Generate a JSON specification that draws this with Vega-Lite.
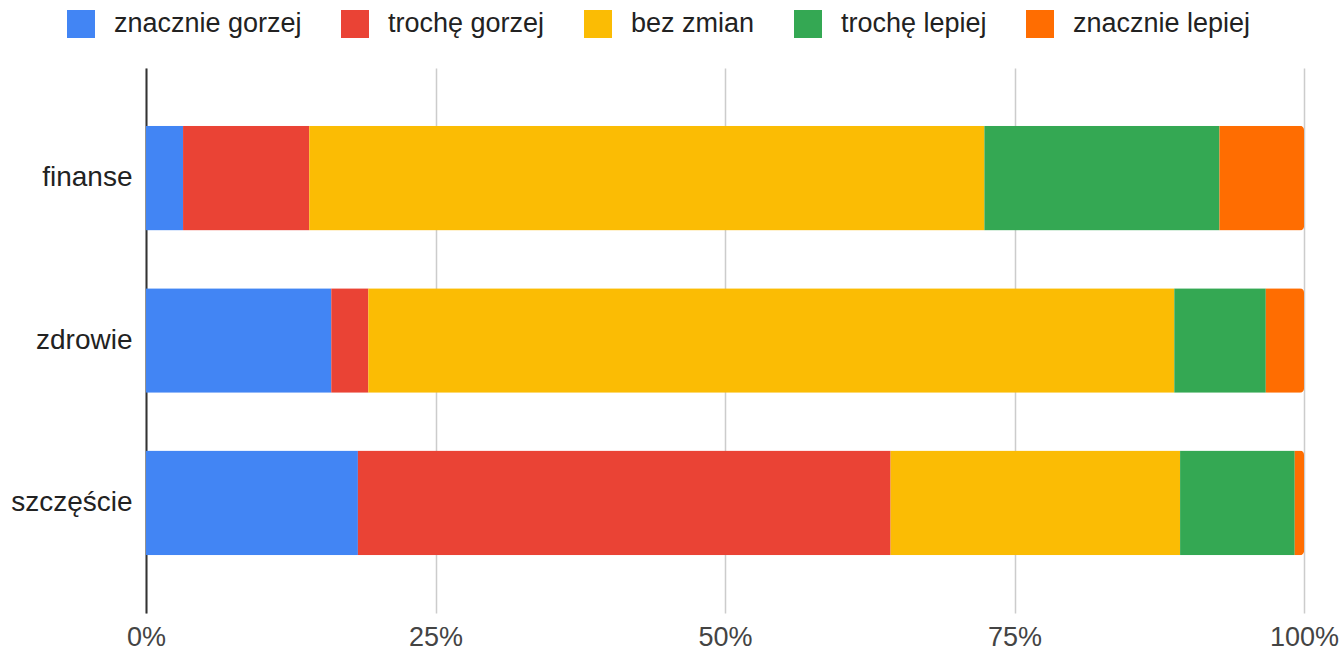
{
  "$schema": "https://vega.github.io/schema/vega-lite/v6.json",
  "width": 1158,
  "height": 545,
  "autosize": {"type": "none"},
  "padding": {"left": 146, "top": 68, "right": 40, "bottom": 40},
  "background": "white",
  "config": {
    "view": {"stroke": null},
    "font": "Liberation Sans"
  },
  "data": {
    "values": [
      {"kat": "finanse", "odp": "znacznie gorzej", "o": 1, "v": 3.2},
      {"kat": "finanse", "odp": "trochę gorzej", "o": 2, "v": 10.9},
      {"kat": "finanse", "odp": "bez zmian", "o": 3, "v": 58.3},
      {"kat": "finanse", "odp": "trochę lepiej", "o": 4, "v": 20.3},
      {"kat": "finanse", "odp": "znacznie lepiej", "o": 5, "v": 7.3},
      {"kat": "zdrowie", "odp": "znacznie gorzej", "o": 1, "v": 16.0},
      {"kat": "zdrowie", "odp": "trochę gorzej", "o": 2, "v": 3.2},
      {"kat": "zdrowie", "odp": "bez zmian", "o": 3, "v": 69.6},
      {"kat": "zdrowie", "odp": "trochę lepiej", "o": 4, "v": 7.9},
      {"kat": "zdrowie", "odp": "znacznie lepiej", "o": 5, "v": 3.3},
      {"kat": "szczęście", "odp": "znacznie gorzej", "o": 1, "v": 18.3},
      {"kat": "szczęście", "odp": "trochę gorzej", "o": 2, "v": 46.0},
      {"kat": "szczęście", "odp": "bez zmian", "o": 3, "v": 25.0},
      {"kat": "szczęście", "odp": "trochę lepiej", "o": 4, "v": 9.9},
      {"kat": "szczęście", "odp": "znacznie lepiej", "o": 5, "v": 0.8}
    ]
  },
  "mark": {"type": "bar", "cornerRadiusEnd": 4},
  "encoding": {
    "y": {
      "field": "kat",
      "type": "nominal",
      "sort": ["finanse", "zdrowie", "szczęście"],
      "scale": {"paddingInner": 0.356, "paddingOuter": 0.356},
      "axis": {
        "title": null,
        "ticks": false,
        "domain": true,
        "domainColor": "#333333",
        "domainWidth": 2,
        "labelFontSize": 28,
        "labelColor": "#222222",
        "labelPadding": 14,
        "labelFont": "Liberation Sans"
      }
    },
    "x": {
      "field": "v",
      "type": "quantitative",
      "stack": "normalize",
      "scale": {"domain": [0, 1], "nice": false},
      "axis": {
        "title": null,
        "values": [0, 0.25, 0.5, 0.75, 1],
        "format": ".0%",
        "domain": false,
        "ticks": false,
        "grid": true,
        "gridColor": "#cccccc",
        "gridWidth": 1.5,
        "labelFontSize": 27,
        "labelColor": "#444444",
        "labelPadding": 11,
        "labelFont": "Liberation Sans",
        "labelFlush": false
      }
    },
    "order": {"field": "o", "type": "quantitative"},
    "color": {
      "field": "odp",
      "type": "nominal",
      "sort": ["znacznie gorzej", "trochę gorzej", "bez zmian", "trochę lepiej", "znacznie lepiej"],
      "scale": {
        "domain": ["znacznie gorzej", "trochę gorzej", "bez zmian", "trochę lepiej", "znacznie lepiej"],
        "range": ["#4285F4", "#EA4335", "#FBBC04", "#34A853", "#FF6D01"]
      },
      "legend": {
        "title": null,
        "orient": "none",
        "direction": "horizontal",
        "legendX": -79,
        "legendY": -58,
        "symbolType": "square",
        "symbolSize": 784,
        "symbolStrokeWidth": 0,
        "symbolOpacity": 1,
        "labelFontSize": 27,
        "labelColor": "#222222",
        "labelFont": "Liberation Sans",
        "labelOffset": 19,
        "columnPadding": 39,
        "labelLimit": 400
      }
    }
  }
}
